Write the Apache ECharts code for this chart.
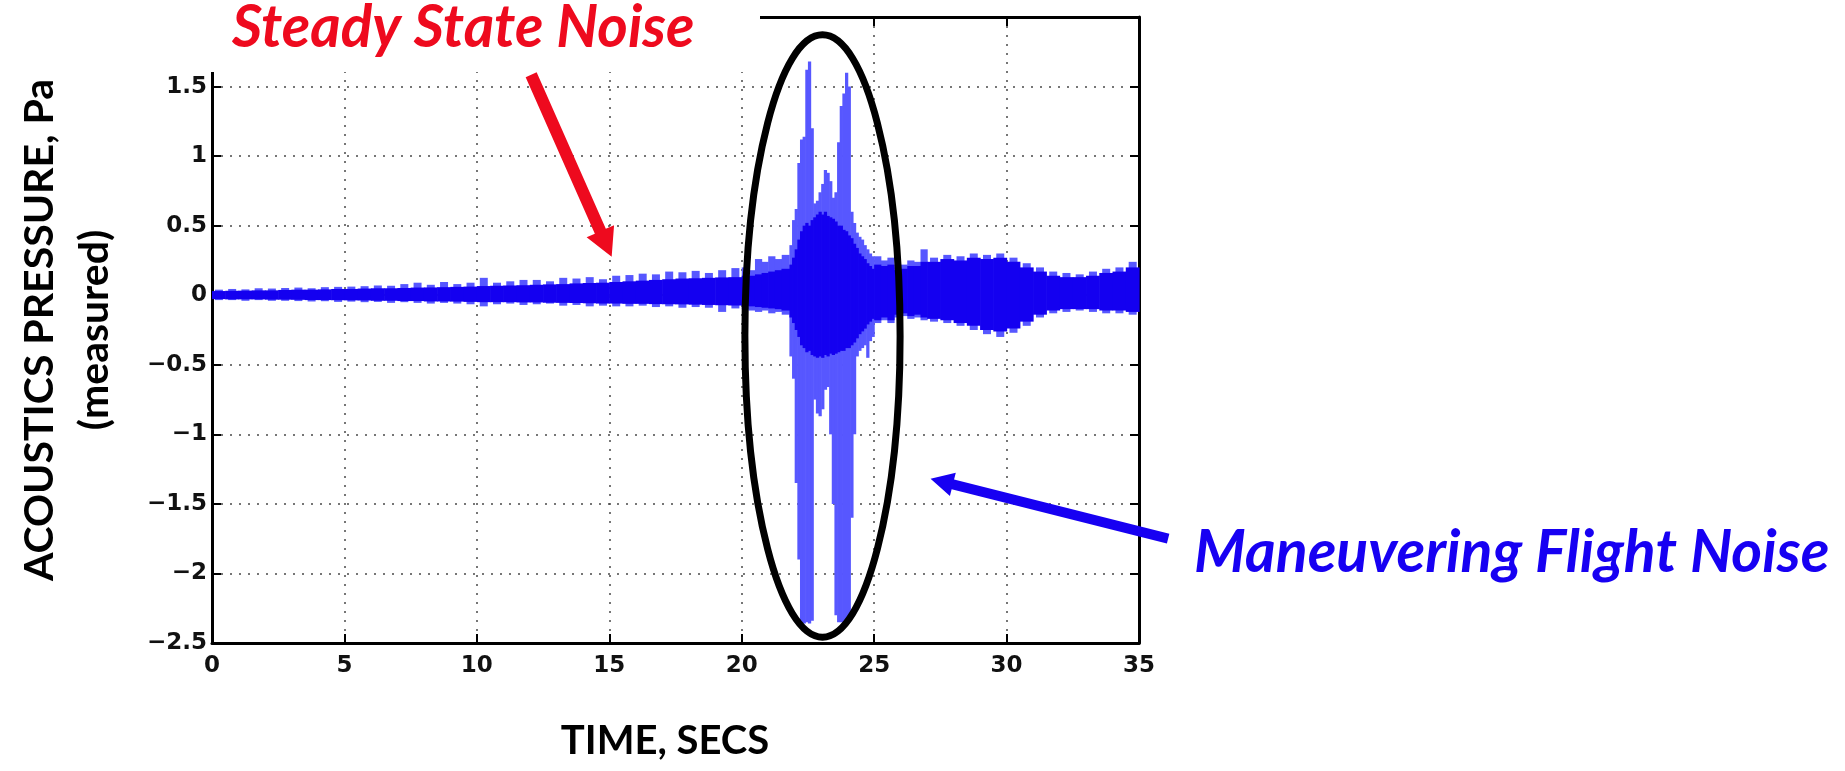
<!DOCTYPE html>
<html>
<head>
<meta charset="utf-8">
<title>Acoustics pressure</title>
<script src="https://cdn.jsdelivr.net/npm/echarts@6/dist/echarts.min.js"></script>
<style>
  html, body { margin: 0; padding: 0; background: #fff; }
  #chart { width: 1845px; height: 771px; }
</style>
</head>
<body>
<div id="chart"></div>
<script>
// left edge (s) of each sample column; each column runs to the next edge
const times = [
  0, 0.5, 1, 1.5, 2, 2.5, 3, 3.5, 4, 4.5, 5, 5.5, 6, 6.5, 7, 7.5, 8, 8.5, 9, 9.5,
  10, 10.5, 11, 11.5, 12, 12.5, 13, 13.5, 14, 14.5, 15, 15.5, 16, 16.5, 17, 17.5, 18, 18.5, 19, 19.5,
  20, 20.25, 20.5, 20.75, 21, 21.25, 21.5,
  21.8, 21.9, 22, 22.1, 22.2, 22.3, 22.4, 22.5, 22.6, 22.7, 22.8, 22.9, 23, 23.1, 23.2, 23.3,
  23.4, 23.5, 23.6, 23.7, 23.8, 23.9, 24, 24.1, 24.2, 24.3, 24.4, 24.5, 24.6, 24.7, 24.8, 24.9,
  25, 25.25, 25.5, 25.75, 26, 26.25, 26.5, 26.75,
  27, 27.5, 28, 28.5, 29, 29.5, 30, 30.5, 31, 31.5, 32, 32.5, 33, 33.5, 34, 34.5
];
// outer (faint) envelope of the pressure trace, Pa
const outerHi = [
  0.04, 0.045, 0.042, 0.05, 0.048, 0.052, 0.055, 0.05, 0.058, 0.06, 0.062, 0.065, 0.07, 0.068, 0.08, 0.09, 0.075, 0.095, 0.08, 0.09,
  0.125, 0.09, 0.1, 0.11, 0.11, 0.1, 0.125, 0.12, 0.13, 0.115, 0.14, 0.145, 0.155, 0.15, 0.17, 0.165, 0.175, 0.16, 0.18, 0.195,
  0.2, 0.18, 0.26, 0.24, 0.28, 0.26, 0.29,
  0.36, 0.54, 0.62, 0.95, 1.12, 1.14, 1.62, 1.68, 1.2, 0.66, 0.68, 0.74, 0.8, 0.9, 0.88, 0.82,
  0.7, 0.74, 1.1, 1.36, 1.45, 1.6, 1.5, 0.6, 0.52, 0.45, 0.42, 0.4, 0.36, 0.33, 0.3, 0.28,
  0.28, 0.25, 0.27, 0.2, 0.22, 0.25, 0.24, 0.33,
  0.27, 0.29, 0.28, 0.3, 0.29, 0.3, 0.27, 0.23, 0.2, 0.17, 0.16, 0.15, 0.17, 0.19, 0.2, 0.24
];
const outerLo = [
  -0.035, -0.035, -0.04, -0.035, -0.04, -0.04, -0.042, -0.045, -0.043, -0.048, -0.046, -0.05, -0.048, -0.055, -0.05, -0.055, -0.06, -0.055, -0.06, -0.065,
  -0.08, -0.065, -0.06, -0.07, -0.065, -0.06, -0.075, -0.07, -0.08, -0.075, -0.08, -0.08, -0.075, -0.085, -0.08, -0.09, -0.085, -0.09, -0.12, -0.095,
  -0.1, -0.11, -0.12, -0.11, -0.13, -0.12, -0.14,
  -0.44, -0.6, -1.35, -1.9, -2.36, -2.36, -2.35, -2.36, -2.34, -0.75, -0.85, -0.87, -0.82, -0.68, -0.66, -1.0,
  -1.5, -2.3, -2.35, -2.35, -2.36, -2.35, -2.33, -1.6, -1.0, -0.44, -0.4, -0.38, -0.36, -0.45, -0.33, -0.3,
  -0.2, -0.18, -0.2, -0.16, -0.15, -0.17, -0.16, -0.18,
  -0.19, -0.2, -0.22, -0.25, -0.28, -0.3, -0.27, -0.22, -0.16, -0.13, -0.12, -0.11, -0.12, -0.13, -0.13, -0.14
];
// dense (solid) core of the trace, Pa
const coreHi = [
  0.03, 0.032, 0.033, 0.035, 0.035, 0.038, 0.04, 0.04, 0.042, 0.045, 0.045, 0.048, 0.05, 0.05, 0.052, 0.055, 0.056, 0.058, 0.06, 0.062,
  0.066, 0.068, 0.07, 0.072, 0.075, 0.078, 0.08, 0.085, 0.088, 0.09, 0.095, 0.1, 0.105, 0.11, 0.115, 0.12, 0.122, 0.125, 0.128, 0.13,
  0.14, 0.14, 0.15, 0.16, 0.17, 0.18, 0.19,
  0.22, 0.27, 0.33, 0.4, 0.46, 0.5, 0.52, 0.5, 0.54, 0.56, 0.58, 0.6, 0.58, 0.6, 0.57, 0.56,
  0.55, 0.53, 0.5, 0.5, 0.47, 0.46, 0.43, 0.41, 0.37, 0.34, 0.3, 0.28, 0.26, 0.23, 0.21, 0.19,
  0.22, 0.21, 0.22, 0.18, 0.19, 0.21, 0.21, 0.24,
  0.24, 0.26, 0.25, 0.27, 0.26, 0.27, 0.24, 0.2, 0.17, 0.14, 0.13, 0.13, 0.14, 0.16, 0.17, 0.2
];
const coreLo = [
  -0.028, -0.03, -0.03, -0.03, -0.032, -0.032, -0.033, -0.035, -0.035, -0.036, -0.037, -0.038, -0.04, -0.04, -0.042, -0.042, -0.045, -0.045, -0.046, -0.048,
  -0.05, -0.05, -0.05, -0.052, -0.052, -0.054, -0.055, -0.056, -0.058, -0.06, -0.06, -0.062, -0.062, -0.064, -0.065, -0.066, -0.068, -0.07, -0.072, -0.074,
  -0.075, -0.08, -0.085, -0.09, -0.095, -0.1, -0.11,
  -0.16, -0.2, -0.25, -0.3, -0.36, -0.38, -0.41, -0.4, -0.43, -0.44, -0.45, -0.44, -0.45, -0.43, -0.44, -0.42,
  -0.43, -0.42, -0.41, -0.4, -0.4, -0.38, -0.38, -0.36, -0.34, -0.31, -0.28, -0.26, -0.24, -0.21, -0.19, -0.17,
  -0.18, -0.16, -0.18, -0.14, -0.13, -0.15, -0.14, -0.16,
  -0.17, -0.18, -0.2, -0.22, -0.25, -0.26, -0.24, -0.19, -0.14, -0.11, -0.1, -0.1, -0.1, -0.11, -0.11, -0.12
];

const xMin = 0, xMax = 35, xStep = 5;
const yMin = -2.5, yMax = 2, yStep = 0.5;

const colors = {
  core: '#1400f0',
  outer: '#5757ff',
  red: '#ee0a1e',
  blue: '#1700f2'
};

// [start, end, hi, lo] per column
const toColumns = (hi, lo) => times.map((t, i) => [t, i + 1 < times.length ? times[i + 1] : xMax, hi[i], lo[i]]);

// maxW: widest a column may be drawn (px); wide outer columns become spikes
const renderColumn = (color, maxW) => (params, api) => {
  const p0 = api.coord([api.value(0), api.value(2)]);
  const p1 = api.coord([api.value(1), api.value(3)]);
  const full = p1[0] - p0[0] + 0.6;
  const w = Math.min(full, maxW);
  return {
    type: 'rect',
    shape: { x: p0[0] + (full - w) / 2, y: p0[1], width: w, height: p1[1] - p0[1] },
    style: { fill: color }
  };
};

const tickFmt = (v) => (v === yMax ? '' : String(v).replace('-', '\u2212'));

const gridDots = { show: true, lineStyle: { color: '#4a4a4a', width: 1.5, type: [2, 7] } };
const frame = { show: true, onZero: false, lineStyle: { color: '#000', width: 3 } };
const ticksIn = { show: true, inside: true, length: 9, lineStyle: { color: '#000', width: 2 } };
const labelFont = { fontFamily: 'DejaVu Sans', fontWeight: 'bold', fontSize: 23, color: '#111' };

const option = {
  animation: false,
  backgroundColor: '#fff',
  grid: { left: 212, right: 706, top: 17, bottom: 128 },
  xAxis: [
    {
      type: 'value', min: xMin, max: xMax, interval: xStep,
      position: 'bottom',
      axisLine: frame, axisTick: ticksIn, splitLine: gridDots,
      axisLabel: Object.assign({ margin: 12 }, labelFont),
      name: 'TIME, SECS', nameLocation: 'middle', nameGap: 78,
      nameTextStyle: { fontFamily: 'Lato', fontWeight: 'bold', fontSize: 40, color: '#000', padding: [0, 21, 0, 0] }
    },
    {
      type: 'value', min: xMin, max: xMax, interval: xStep,
      position: 'top',
      axisLine: frame, axisTick: ticksIn, splitLine: { show: false }, axisLabel: { show: false }
    }
  ],
  yAxis: [
    {
      type: 'value', min: yMin, max: yMax, interval: yStep,
      position: 'left',
      axisLine: frame, axisTick: ticksIn, splitLine: gridDots,
      axisLabel: Object.assign({ margin: 5, formatter: tickFmt }, labelFont),
      name: 'ACOUSTICS PRESSURE, Pa\n(measured)', nameLocation: 'middle', nameGap: 90,
      nameTextStyle: { fontFamily: 'Lato', fontWeight: 'bold', fontSize: 41, lineHeight: 55, color: '#000' }
    },
    {
      type: 'value', min: yMin, max: yMax, interval: yStep,
      position: 'right',
      axisLine: frame, axisTick: ticksIn, splitLine: { show: false }, axisLabel: { show: false }
    }
  ],
  series: [
    {
      name: 'outer', type: 'custom', renderItem: renderColumn(colors.outer, 8),
      encode: { x: [0, 1], y: [2, 3] }, data: toColumns(outerHi, outerLo), z: 2
    },
    {
      name: 'core', type: 'custom', renderItem: renderColumn(colors.core, 100),
      encode: { x: [0, 1], y: [2, 3] }, data: toColumns(coreHi, coreLo), z: 3
    }
  ]
};

const chart = echarts.init(document.getElementById('chart'), null, { renderer: 'canvas' });
chart.setOption(option);

const px = (t, v) => chart.convertToPixel({ xAxisIndex: 0, yAxisIndex: 0 }, [t, v]);

const arrow = (from, to, shaft, headW, headL) => {
  const dx = to[0] - from[0], dy = to[1] - from[1];
  const len = Math.sqrt(dx * dx + dy * dy);
  const ux = dx / len, uy = dy / len, nx = -uy, ny = ux;
  const bx = to[0] - ux * headL, by = to[1] - uy * headL;
  return [
    [from[0] + nx * shaft / 2, from[1] + ny * shaft / 2],
    [bx + nx * shaft / 2, by + ny * shaft / 2],
    [bx + nx * headW / 2, by + ny * headW / 2],
    to,
    [bx - nx * headW / 2, by - ny * headW / 2],
    [bx - nx * shaft / 2, by - ny * shaft / 2],
    [from[0] - nx * shaft / 2, from[1] - ny * shaft / 2]
  ];
};

// annotation anchors in data units
const ringCenter = px(23.05, -0.293);
const ringEdge = px(23.05 + 2.93, -0.293 + 2.165);
const redTail = px(12.05, 1.585), redTip = px(15.09, 0.276);
const blueTail = px(36.1, -1.75), blueTip = px(27.13, -1.32);

chart.setOption({
  graphic: [
    { type: 'rect', z: 50, shape: { x: 0, y: 0, width: 760, height: 72 }, style: { fill: '#fff' } },
    {
      type: 'text', z: 60, x: 232, y: 28,
      style: { text: 'Steady State Noise', fill: colors.red, font: 'italic bold 58.5px Lato', textAlign: 'left', textVerticalAlign: 'middle' }
    },
    {
      type: 'text', z: 60, x: 1194, y: 553,
      style: { text: 'Maneuvering Flight Noise', fill: colors.blue, font: 'italic bold 59px Lato', textAlign: 'left', textVerticalAlign: 'middle' }
    },
    {
      type: 'ellipse', z: 55,
      shape: { cx: ringCenter[0], cy: ringCenter[1], rx: ringEdge[0] - ringCenter[0], ry: ringCenter[1] - ringEdge[1] },
      style: { fill: null, stroke: '#000', lineWidth: 7 }
    },
    { type: 'polygon', z: 55, shape: { points: arrow(redTail, redTip, 12, 30, 28) }, style: { fill: colors.red } },
    { type: 'polygon', z: 55, shape: { points: arrow(blueTail, blueTip, 10, 24, 23) }, style: { fill: colors.blue } }
  ]
});
</script>
</body>
</html>
